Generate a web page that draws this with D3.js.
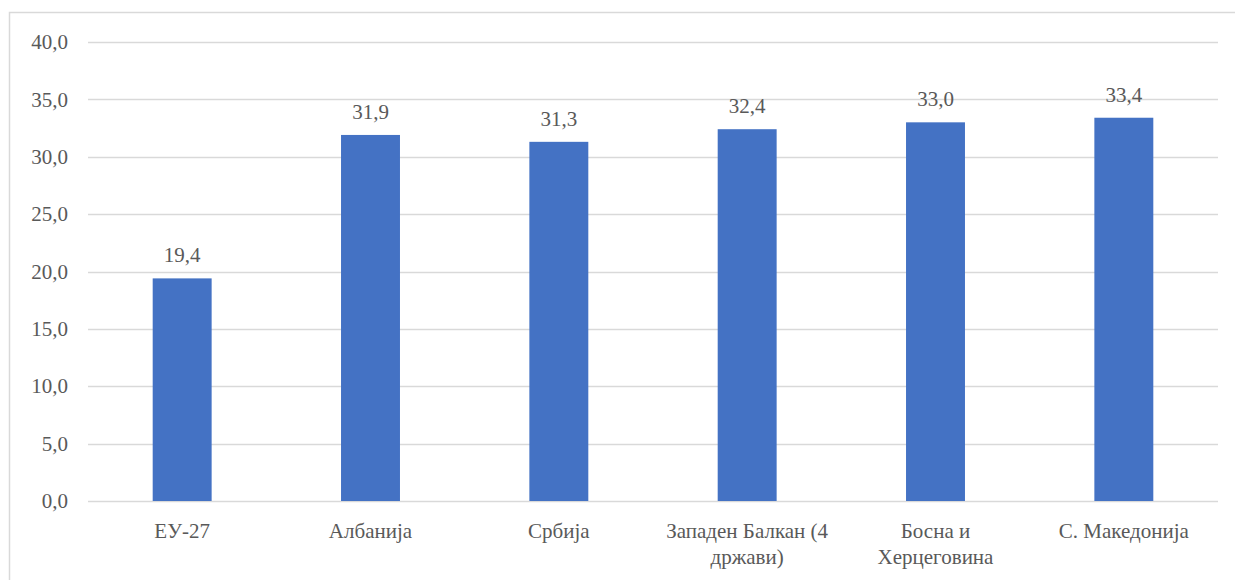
<!DOCTYPE html>
<html>
<head>
<meta charset="utf-8">
<script src="https://cdn.jsdelivr.net/npm/d3@7"></script>
<style>
    body { margin: 0; background: #fff; }
    svg text { font-family: 'Liberation Serif', 'Tinos', 'DejaVu Serif', serif !important; fill: #595959; }
</style>
</head>
<body>
<div id="chart"></div>
<script>
// chart data
const categories = ['ЕУ-27', 'Албанија', 'Србија', 'Западен Балкан (4 држави)', 'Босна и Херцеговина', 'С. Македонија'];
const values = [19.4, 31.9, 31.3, 32.4, 33.0, 33.4];
const yTicks = [0, 5, 10, 15, 20, 25, 30, 35, 40];

const width = 1235, height = 580;
const margin = { top: 42, right: 17, bottom: 79, left: 88 };
const innerW = width - margin.left - margin.right;
const innerH = height - margin.top - margin.bottom;
const serif = "'Liberation Serif', 'Tinos', 'DejaVu Serif', serif";

const fmt = v => v.toFixed(1).replace('.', ',');

const svg = d3.select('#chart').append('svg')
    .attr('width', width)
    .attr('height', height)
    .style('font-family', serif);

// outer frame (runs past the right and bottom edges)
svg.append('rect')
    .attr('x', 9.5).attr('y', 12.5)
    .attr('width', width + 10).attr('height', height + 10)
    .attr('fill', 'none')
    .attr('stroke', '#d9d9d9')
    .attr('stroke-width', 1.5);

const chart = svg.append('g')
    .attr('transform', `translate(${margin.left},${margin.top})`);

const x = d3.scaleBand()
    .domain(categories)
    .range([0, innerW])
    .paddingInner(0.687)
    .paddingOuter(0.3435);

const y = d3.scaleLinear()
    .domain([0, 40])
    .range([innerH, 0]);

// gridlines
chart.append('g')
    .selectAll('line')
    .data(yTicks)
    .enter().append('line')
    .attr('x1', 0)
    .attr('x2', innerW)
    .attr('y1', d => Math.round(y(d)) + 0.5)
    .attr('y2', d => Math.round(y(d)) + 0.5)
    .attr('stroke', '#d9d9d9')
    .attr('stroke-width', 1.3);

// y axis labels
const yAxis = d3.axisLeft(y)
    .tickValues(yTicks)
    .tickFormat(fmt)
    .tickSize(0)
    .tickPadding(20);
const yAxisG = chart.append('g').call(yAxis)
    .attr('font-family', null);
yAxisG.select('.domain').remove();
yAxisG.selectAll('text')
    .attr('font-size', 21)
    .style('font-family', serif)
    .attr('fill', '#595959');

// bars
chart.append('g')
    .selectAll('rect')
    .data(values)
    .enter().append('rect')
    .attr('x', (d, i) => x(categories[i]))
    .attr('y', d => y(d))
    .attr('width', x.bandwidth())
    .attr('height', d => innerH - y(d))
    .attr('fill', '#4472c4');

// value labels
chart.append('g')
    .selectAll('text')
    .data(values)
    .enter().append('text')
    .attr('x', (d, i) => x(categories[i]) + x.bandwidth() / 2)
    .attr('y', d => y(d) - 16)
    .attr('text-anchor', 'middle')
    .attr('font-size', 21)
    .style('font-family', serif)
    .text(fmt);

// x axis labels with wrapping
const xAxis = d3.axisBottom(x).tickSize(0).tickPadding(22);
const xAxisG = chart.append('g')
    .attr('transform', `translate(0,${innerH})`)
    .call(xAxis)
    .attr('font-family', null);
xAxisG.select('.domain').remove();
xAxisG.selectAll('text')
    .attr('font-size', 21)
    .style('font-family', serif)
    .attr('fill', '#595959')
    .call(wrap, 168);

function wrap(texts, maxW) {
    texts.each(function() {
        const text = d3.select(this);
        const words = text.text().split(/\s+/);
        const yAttr = text.attr('y');
        const dy = parseFloat(text.attr('dy')) || 0;
        text.text(null);
        let line = [];
        let lineNo = 0;
        let tspan = text.append('tspan').attr('x', 0).attr('y', yAttr).attr('dy', dy + 'em');
        for (const w of words) {
            line.push(w);
            tspan.text(line.join(' '));
            if (tspan.node().getComputedTextLength() > maxW && line.length > 1) {
                line.pop();
                tspan.text(line.join(' '));
                line = [w];
                lineNo++;
                tspan = text.append('tspan').attr('x', 0).attr('y', yAttr)
                    .attr('dy', (dy + lineNo * 1.25) + 'em')
                    .text(w);
            }
        }
    });
}
</script>
</body>
</html>
